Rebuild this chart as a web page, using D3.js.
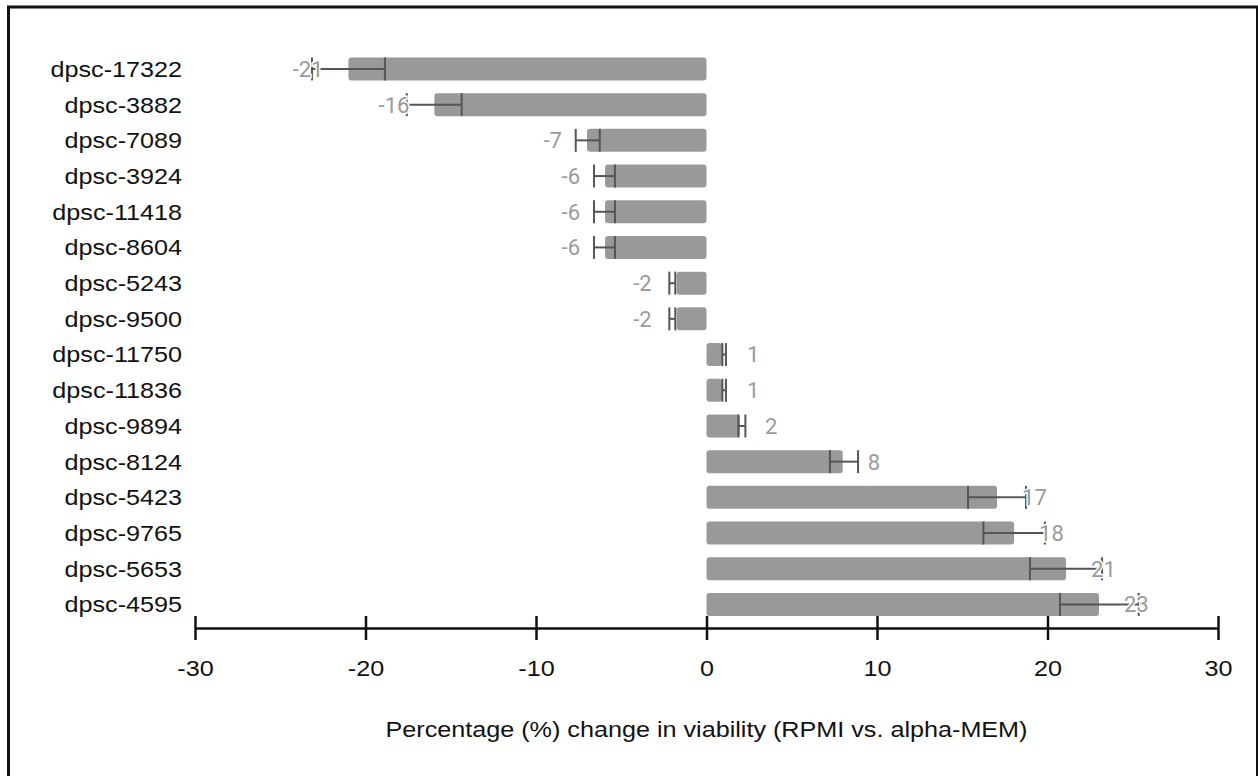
<!DOCTYPE html>
<html>
<head>
<meta charset="utf-8">
<script src="https://cdn.jsdelivr.net/npm/d3@7"></script>
<style>
  html, body { margin: 0; padding: 0; background: #fff; }
  svg { display: block; }
</style>
</head>
<body>
<svg id="chart" width="1258" height="776"></svg>
<script>
const categories = ["dpsc-17322","dpsc-3882","dpsc-7089","dpsc-3924","dpsc-11418","dpsc-8604","dpsc-5243","dpsc-9500","dpsc-11750","dpsc-11836","dpsc-9894","dpsc-8124","dpsc-5423","dpsc-9765","dpsc-5653","dpsc-4595"];
const values   = [-21.0, -15.96, -7.01, -5.95, -5.95, -5.95, -1.75, -1.75, 0.91, 0.91, 1.96, 7.99, 17.04, 18.04, 21.09, 23.02];
const errLow   = [-23.14, -17.58, -7.67, -6.60, -6.60, -6.60, -2.18, -2.18, 0.93, 0.93, 1.87, 7.24, 15.34, 16.24, 18.97, 20.73];
const errHigh  = [-18.86, -14.36, -6.26, -5.37, -5.37, -5.37, -1.83, -1.83, 1.14, 1.14, 2.28, 8.89, 18.74, 19.85, 23.2, 25.35];
const xTicks   = [-30, -20, -10, 0, 10, 20, 30];
const xTitle   = "Percentage (%) change in viability (RPMI vs. alpha-MEM)";

const data = categories.map((c, i) => ({ c, v: values[i], lo: errLow[i], hi: errHigh[i] }));

const SX = 1.145;          // horizontal stretch of the reference's black text
const FS = 22;
const FONT = "'Liberation Sans', Arial, sans-serif";

const svg = d3.select("#chart");

// frame
svg.append("rect")
  .attr("x", 8.5).attr("y", 7).attr("width", 1249).attr("height", 800)
  .attr("fill", "none").attr("stroke", "#111").attr("stroke-width", 3);

const x = d3.scaleLinear().domain([-30, 30]).range([195, 1218]);
const y = d3.scaleBand().domain(categories).range([51.1, 622.3])
  .paddingInner(0.356).paddingOuter(0.178);

// bars
svg.append("g").selectAll("rect").data(data).join("rect")
  .attr("x", d => Math.min(x(d.v), x(0)))
  .attr("width", d => Math.abs(x(d.v) - x(0)))
  .attr("y", d => y(d.c))
  .attr("height", y.bandwidth())
  .attr("rx", 3).attr("ry", 3)
  .attr("fill", "#999999");

// error bars
const eg = svg.append("g").attr("stroke", "#555").attr("stroke-width", 2).attr("fill", "none");
data.forEach(d => {
  const y0 = y(d.c), y1 = y(d.c) + y.bandwidth(), ym = y(d.c) + y.bandwidth() / 2;
  eg.append("line").attr("x1", x(d.lo)).attr("x2", x(d.hi)).attr("y1", ym).attr("y2", ym);
  eg.append("line").attr("x1", x(d.lo)).attr("x2", x(d.lo)).attr("y1", y0).attr("y2", y1);
  eg.append("line").attr("x1", x(d.hi)).attr("x2", x(d.hi)).attr("y1", y0).attr("y2", y1);
});

// value labels
svg.append("g").selectAll("text").data(data).join("text")
  .attr("x", d => d.v < 0 ? x(d.v) - 25 : x(d.v) + 25)
  .attr("y", d => y(d.c) + y.bandwidth() / 2)
  .attr("dy", "0.36em")
  .attr("text-anchor", d => d.v < 0 ? "end" : "start")
  .attr("font-family", "Roboto, sans-serif")
  .attr("font-size", 22)
  .attr("fill", "#9a9a9a")
  .attr("stroke", "#fff").attr("stroke-width", 3).attr("paint-order", "stroke")
  .text(d => Math.round(d.v));

// category labels
svg.append("g").selectAll("text").data(categories).join("text")
  .attr("transform", d => `translate(182,${y(d) + y.bandwidth() / 2}) scale(${SX},1)`)
  .attr("dy", "0.36em")
  .attr("text-anchor", "end")
  .attr("font-family", FONT)
  .attr("font-size", FS)
  .attr("fill", "#111")
  .text(d => d);

// x axis
const axisY = 628;
const ax = svg.append("g").attr("transform", `translate(0,${axisY})`)
  .call(d3.axisBottom(x).tickValues(xTicks).tickSize(0).tickPadding(0).tickFormat(d => String(d)));
ax.select(".domain").attr("stroke", "#111").attr("stroke-width", 2.5);
ax.selectAll(".tick line").attr("y1", -12).attr("y2", 12).attr("stroke", "#111").attr("stroke-width", 2.5);
ax.selectAll(".tick text")
  .attr("y", null).attr("dy", "0.36em")
  .attr("transform", `translate(0,40) scale(${SX},1)`)
  .attr("font-family", FONT)
  .attr("font-size", FS).attr("fill", "#111");

svg.append("text")
  .attr("transform", `translate(${x(0)},729) scale(${SX},1)`)
  .attr("dy", "0.36em")
  .attr("text-anchor", "middle")
  .attr("font-family", FONT)
  .attr("font-size", FS).attr("fill", "#111")
  .text(xTitle);
</script>
</body>
</html>
